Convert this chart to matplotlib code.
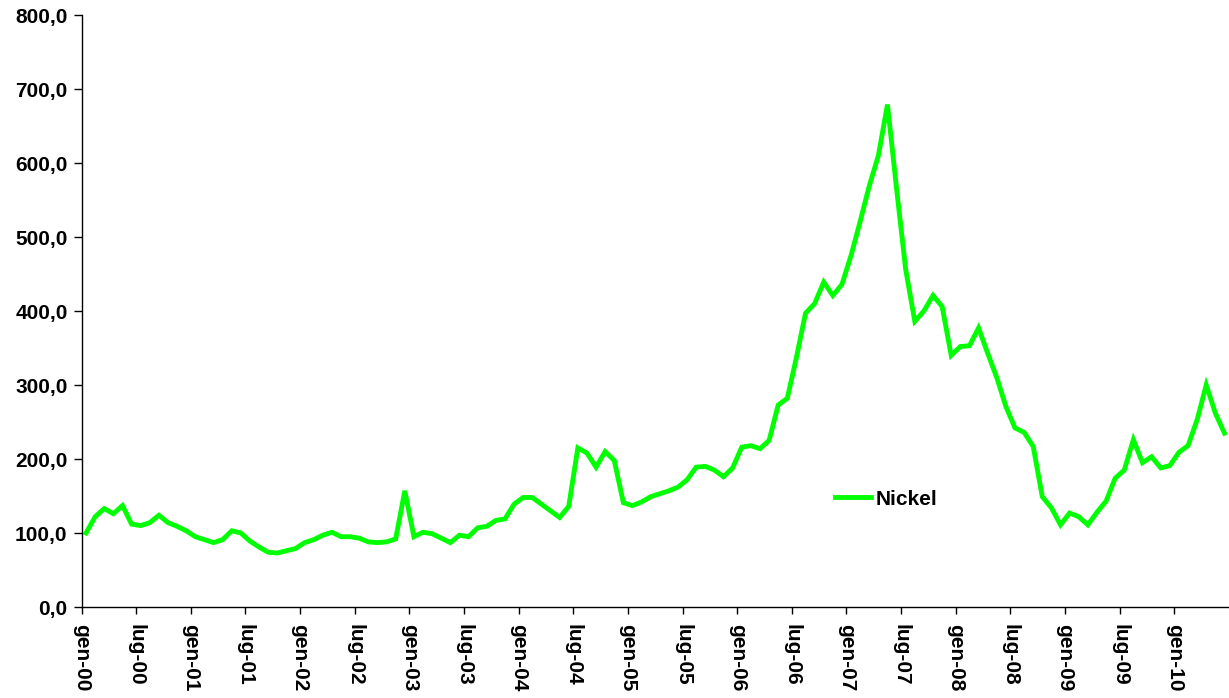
import numpy as np
import matplotlib
matplotlib.use("Agg")
import matplotlib.pyplot as plt
from matplotlib.ticker import FuncFormatter

plt.rcParams['font.family'] = ['Liberation Sans', 'DejaVu Sans']

# ======================= DATI (indice, gen-00 = 100) =======================
nickel_2000 = [100, 122, 133, 126, 137, 112, 110, 114, 124, 114, 109, 103]
nickel_2001 = [95, 91, 87, 91, 103, 100, 89, 81, 74, 73, 76, 79]
nickel_2002 = [87, 91, 97, 101, 95, 95, 93, 88, 87, 88, 92, 157]
nickel_2003 = [95, 101, 99, 93, 87, 97, 95, 107, 109, 117, 119, 139]
nickel_2004 = [148, 148, 139, 130, 121, 136, 215, 208, 189, 210, 198, 141]
nickel_2005 = [137, 142, 149, 153, 157, 162, 172, 189, 190, 185, 176, 188]
nickel_2006 = [216, 218, 214, 225, 273, 282, 337, 397, 410, 439, 421, 436]
nickel_2007 = [475, 521, 569, 610, 679, 565, 456, 386, 400, 421, 406, 340]
nickel_2008 = [352, 353, 377, 343, 310, 271, 242, 236, 217, 149, 134, 111]
nickel_2009 = [127, 122, 111, 128, 143, 174, 185, 226, 195, 203, 188, 191]
nickel_2010 = [209, 218, 253, 300, 262, 235]

tick_labels = ["gen-00", "lug-00", "gen-01", "lug-01", "gen-02", "lug-02",
               "gen-03", "lug-03", "gen-04", "lug-04", "gen-05", "lug-05",
               "gen-06", "lug-06", "gen-07", "lug-07", "gen-08", "lug-08",
               "gen-09", "lug-09", "gen-10"]
y_ticks = [0, 100, 200, 300, 400, 500, 600, 700, 800]
# ==========================================================================

nickel = np.array(nickel_2000 + nickel_2001 + nickel_2002 + nickel_2003 +
                  nickel_2004 + nickel_2005 + nickel_2006 + nickel_2007 +
                  nickel_2008 + nickel_2009 + nickel_2010, dtype=float)
x = np.arange(len(nickel))

fig = plt.figure(figsize=(12.29, 6.98), dpi=100)
ax = fig.add_axes([81.5 / 1229, 1 - 607 / 698, (1229 - 81.5) / 1229, (607 - 15) / 698])

ax.plot(x, nickel, color="#00FF00", lw=3.5, label="Nickel", solid_joinstyle="miter")

ax.set_xlim(-0.5, len(nickel) - 0.5)
ax.set_ylim(0, 800)
ax.set_yticks(y_ticks)
ax.yaxis.set_major_formatter(FuncFormatter(lambda v, p: f"{v:.1f}".replace(".", ",")))
ax.set_xticks(np.arange(0, len(nickel), 6) - 0.5)
ax.set_xticklabels(tick_labels, rotation=-90, va="top", ha="center")

for lab in ax.get_xticklabels() + ax.get_yticklabels():
    lab.set_fontweight("bold")
    lab.set_fontsize(15)

ax.tick_params(axis="y", direction="out", length=6, width=1, pad=4, colors="black")
ax.tick_params(axis="x", direction="out", length=5, width=1, pad=7, colors="black")
for s in ["top", "right"]:
    ax.spines[s].set_visible(False)
for s in ["left", "bottom"]:
    ax.spines[s].set_color("black")
    ax.spines[s].set_linewidth(1)

ax.legend(loc="center left", bbox_to_anchor=(0.657, 0.182), frameon=False,
          borderaxespad=0, borderpad=0, handlelength=1.7, handletextpad=0.25,
          prop={"weight": "bold", "size": 15})

fig.savefig("out.png", dpi=100)
